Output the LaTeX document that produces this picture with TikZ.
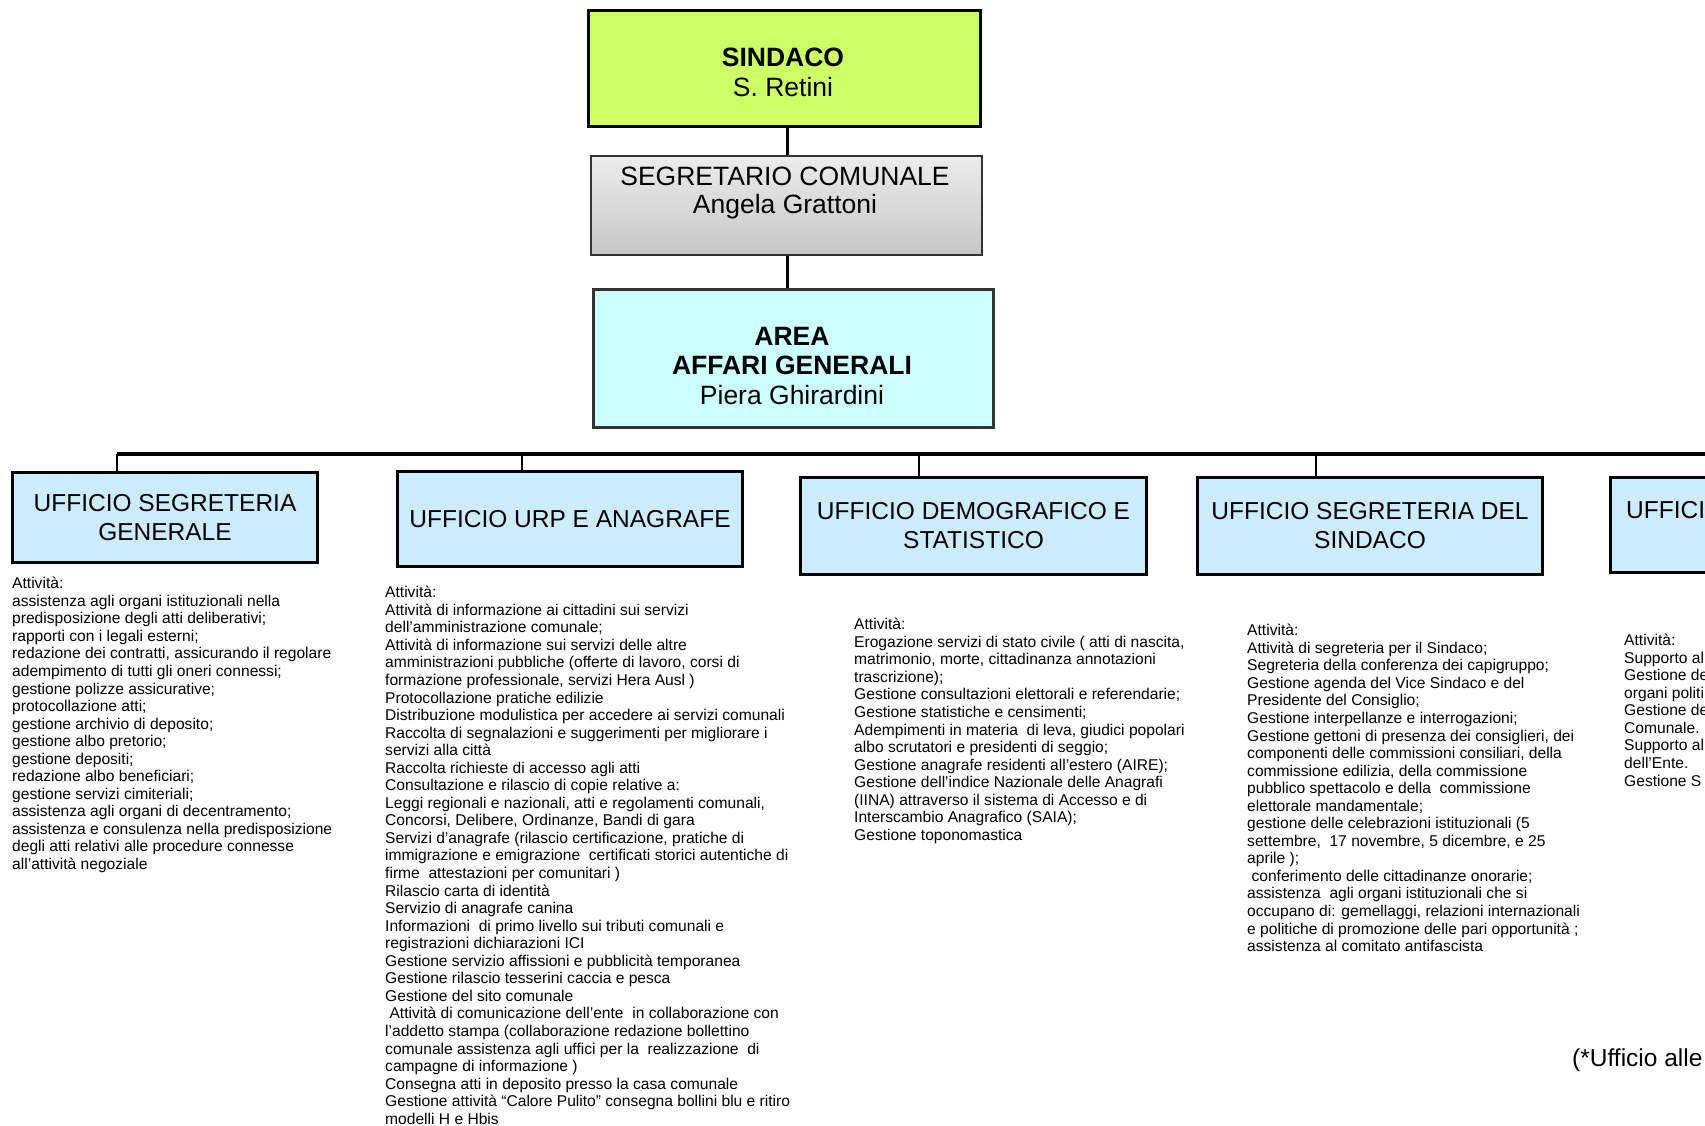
\documentclass[tikz,border=0pt]{standalone}
\usepackage{fontspec}
\setmainfont{Liberation Sans}
\definecolor{limefill}{RGB}{204,255,102}
\definecolor{areafill}{RGB}{204,255,255}
\definecolor{officeblue}{RGB}{204,236,255}
\definecolor{segtop}{RGB}{236,236,236}
\definecolor{segbot}{RGB}{198,198,198}
\definecolor{bordgrey}{RGB}{51,51,51}
\tikzset{
  conn/.style={line width=3pt, black},
  bus/.style={line width=4pt, black},
  drop/.style={line width=2.5pt, black},
  topbox/.style={draw, line width=2.5pt, inner sep=0pt, anchor=north west},
  office/.style={draw=black, line width=3pt, fill=officeblue, anchor=north west, inner sep=0pt, align=center, font=\fontsize{24.5}{29}\selectfont},
  toptext/.style={inner sep=0pt, align=center},
  body/.style={anchor=north west, inner sep=0pt, align=left, font=\fontsize{15.6}{17.55}\selectfont},
}
\begin{document}
\begin{tikzpicture}[x=1pt, y=-1pt]
\useasboundingbox (0,0) rectangle (1705,1125);
\clip (0,0) rectangle (1705,1125);
\fill[white] (0,0) rectangle (1705,1125);

% top boxes
\node[topbox, draw=black, fill=limefill, minimum width=392pt, minimum height=116pt] (sindaco) at (587,9) {};
\node[topbox, draw=bordgrey, line width=2pt, top color=segtop, bottom color=segbot, minimum width=391pt, minimum height=99pt] (segr) at (590,155) {};
\node[topbox, draw=bordgrey, fill=areafill, minimum width=400pt, minimum height=138pt] (area) at (592,288) {};

\node[toptext, font=\fontsize{26.5}{30}\selectfont] (sindtxt) at (783,72) {\textbf{SINDACO}\\S. Retini};
\node[toptext, font=\fontsize{26.5}{28}\selectfont] (segtxt) at (785,192.5) {SEGRETARIO COMUNALE\\Angela Grattoni};
\node[toptext, font=\fontsize{26.5}{29.5}\selectfont] (areatxt) at (792,366) {\textbf{AREA}\\\textbf{AFFARI GENERALI}\\Piera Ghirardini};

\coordinate (spine) at (787,0);
\draw[conn] (sindaco.south -| spine) -- (segr.north -| spine);
\draw[conn] (segr.south -| spine) -- (area.north -| spine);

% bus
\coordinate (busL) at (117,454);
\coordinate (busR) at (1720,454);
\draw[bus] (busL) -- (busR);

% office boxes
\node[office, minimum width=305pt, minimum height=90pt] (u1) at (11,471) {UFFICIO SEGRETERIA\\GENERALE};
\node[office, minimum width=345pt, minimum height=95pt] (u2) at (396,470) {UFFICIO URP E ANAGRAFE};
\node[office, minimum width=346pt, minimum height=97pt] (u3) at (799,476) {UFFICIO DEMOGRAFICO E\\STATISTICO};
\node[office, minimum width=345pt, minimum height=97pt] (u4) at (1196,476) {UFFICIO SEGRETERIA DEL\\SINDACO};
\node[office, minimum width=160pt, minimum height=95pt] (u5) at (1609,476) {};
\node[inner sep=0pt, anchor=west, font=\fontsize{24.5}{29}\selectfont] (u5txt) at (1626,510) {UFFICI};

\coordinate (d1) at (117,454);
\coordinate (d2) at (522,454);
\coordinate (d3) at (919,454);
\coordinate (d4) at (1316,454);
\draw[drop] (d1) -- (d1 |- u1.north);
\draw[drop] (d2) -- (d2 |- u2.north);
\draw[drop] (d3) -- (d3 |- u3.north);
\draw[drop] (d4) -- (d4 |- u4.north);

% activity texts
\node[body] (t1) at (12,577) {Attività:\\
assistenza agli organi istituzionali nella\\
predisposizione degli atti deliberativi;\\
rapporti con i legali esterni;\\
redazione dei contratti, assicurando il regolare\\
adempimento di tutti gli oneri connessi;\\
gestione polizze assicurative;\\
protocollazione atti;\\
gestione archivio di deposito;\\
gestione albo pretorio;\\
gestione depositi;\\
redazione albo beneficiari;\\
gestione servizi cimiteriali;\\
assistenza agli organi di decentramento;\\
assistenza e consulenza nella predisposizione\\
degli atti relativi alle procedure connesse\\
all’attività negoziale};

\node[body] (t2) at (385,586) {Attività:\\
Attività di informazione ai cittadini sui servizi\\
dell’amministrazione comunale;\\
Attività di informazione sui servizi delle altre\\
amministrazioni pubbliche (offerte di lavoro, corsi di\\
formazione professionale, servizi Hera Ausl )\\
Protocollazione pratiche edilizie\\
Distribuzione modulistica per accedere ai servizi comunali\\
Raccolta di segnalazioni e suggerimenti per migliorare i\\
servizi alla città\\
Raccolta richieste di accesso agli atti\\
Consultazione e rilascio di copie relative a:\\
Leggi regionali e nazionali, atti e regolamenti comunali,\\
Concorsi, Delibere, Ordinanze, Bandi di gara\\
Servizi d’anagrafe (rilascio certificazione, pratiche di\\
immigrazione e emigrazione\ \ certificati storici autentiche di\\
firme\ \ attestazioni per comunitari )\\
Rilascio carta di identità\\
Servizio di anagrafe canina\\
Informazioni\ \ di primo livello sui tributi comunali e\\
registrazioni dichiarazioni ICI\\
Gestione servizio affissioni e pubblicità temporanea\\
Gestione rilascio tesserini caccia e pesca\\
Gestione del sito comunale\\
\hspace*{0.28em}Attività di comunicazione dell’ente\ \ in collaborazione con\\
l’addetto stampa (collaborazione redazione bollettino\\
comunale assistenza agli uffici per la\ \ realizzazione\ \ di\\
campagne di informazione )\\
Consegna atti in deposito presso la casa comunale\\
Gestione attività “Calore Pulito” consegna bollini blu e ritiro\\
modelli H e Hbis};

\node[body] (t3) at (854,618) {Attività:\\
Erogazione servizi di stato civile ( atti di nascita,\\
matrimonio, morte, cittadinanza annotazioni\\
trascrizione);\\
Gestione consultazioni elettorali e referendarie;\\
Gestione statistiche e censimenti;\\
Adempimenti in materia\ \ di leva, giudici popolari\\
albo scrutatori e presidenti di seggio;\\
Gestione anagrafe residenti all’estero (AIRE);\\
Gestione dell’indice Nazionale delle Anagrafi\\
(IINA) attraverso il sistema di Accesso e di\\
Interscambio Anagrafico (SAIA);\\
Gestione toponomastica};

\node[body] (t4) at (1247,624) {Attività:\\
Attività di segreteria per il Sindaco;\\
Segreteria della conferenza dei capigruppo;\\
Gestione agenda del Vice Sindaco e del\\
Presidente del Consiglio;\\
Gestione interpellanze e interrogazioni;\\
Gestione gettoni di presenza dei consiglieri, dei\\
componenti delle commissioni consiliari, della\\
commissione edilizia, della commissione\\
pubblico spettacolo e della\ \ commissione\\
elettorale mandamentale;\\
gestione delle celebrazioni istituzionali (5\\
settembre,\ \ 17 novembre, 5 dicembre, e 25\\
aprile );\\
\hspace*{0.28em}conferimento delle cittadinanze onorarie;\\
assistenza\ \ agli organi istituzionali che si\\
occupano di: gemellaggi, relazioni internazionali\\
e politiche di promozione delle pari opportunità ;\\
assistenza al comitato antifascista};

\node[body] (t5) at (1624,634) {Attività:\\
Supporto al\\
Gestione de\\
organi politi\\
Gestione de\\
Comunale.\\
Supporto al\\
dell’Ente.\\
Gestione S};

\node[inner sep=0pt, anchor=base west, font=\fontsize{24.5}{29}\selectfont] (note) at (1572,1066) {(*Ufficio alle};
\end{tikzpicture}
\end{document}
